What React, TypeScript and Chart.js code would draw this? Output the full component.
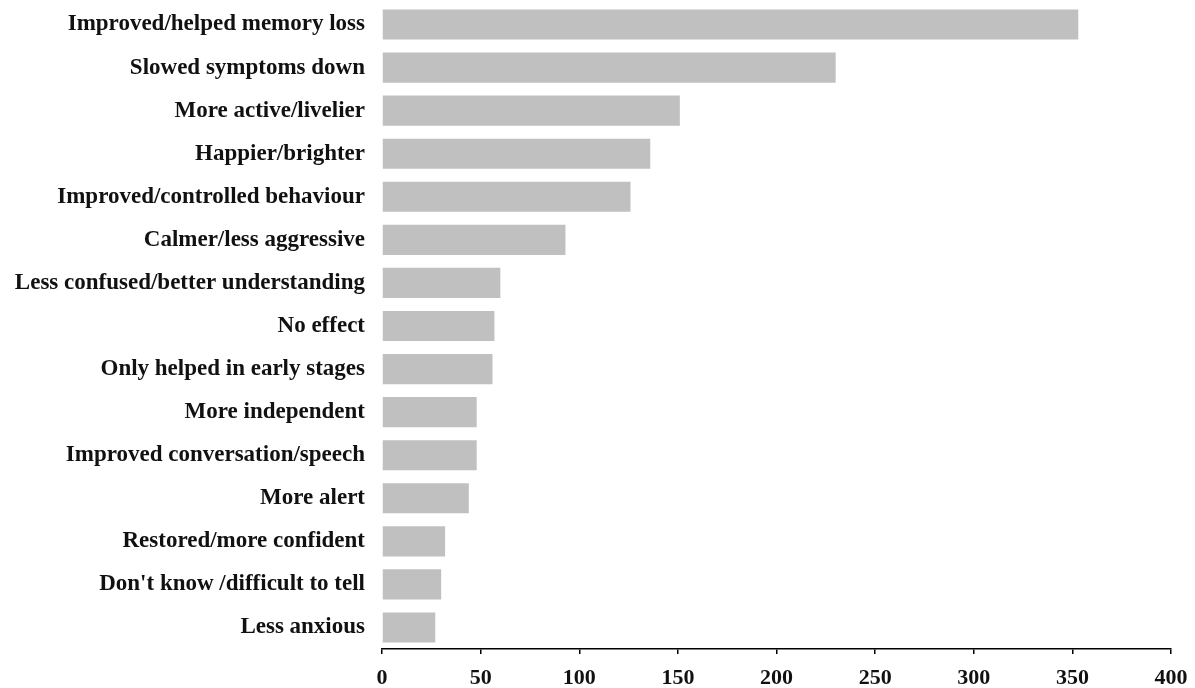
import React, { useEffect, useRef } from "react";
import { Chart, registerables } from "chart.js";

Chart.register(...registerables);

const categories: string[] = [
  "Improved/helped memory loss",
  "Slowed symptoms down",
  "More active/livelier",
  "Happier/brighter",
  "Improved/controlled behaviour",
  "Calmer/less aggressive",
  "Less confused/better understanding",
  "No effect",
  "Only helped in early stages",
  "More independent",
  "Improved conversation/speech",
  "More alert",
  "Restored/more confident",
  "Don't know /difficult to tell",
  "Less anxious",
];

const counts: number[] = [353, 230, 151, 136, 126, 93, 60, 57, 56, 48, 48, 44, 32, 30, 27];

const xTicks: number[] = [0, 50, 100, 150, 200, 250, 300, 350, 400];

const FONT = "'Liberation Serif', 'DejaVu Serif', serif";

export default function App() {
  const ref = useRef<HTMLCanvasElement | null>(null);

  useEffect(() => {
    document.body.style.margin = "0";
    const canvas = ref.current;
    if (!canvas) return;
    const chart = new Chart(canvas, {
      type: "bar",
      data: {
        labels: categories,
        datasets: [
          {
            data: counts,
            backgroundColor: "#c0c0c0",
            borderWidth: 0,
            barPercentage: 0.7,
            categoryPercentage: 1,
          },
        ],
      },
      options: {
        indexAxis: "y",
        animation: false,
        responsive: false,
        maintainAspectRatio: false,
        devicePixelRatio: 1,
        layout: { padding: { top: 3, right: 24, left: 0, bottom: 0 } },
        plugins: { legend: { display: false }, tooltip: { enabled: false } },
        scales: {
          x: {
            min: 0,
            max: 400,
            afterBuildTicks: (axis: any) => {
              axis.ticks = xTicks.map((v) => ({ value: v }));
            },
            afterFit: (axis: any) => {
              axis.height = 39;
              axis.paddingLeft = 0;
              axis.paddingRight = 0;
            },
            border: { display: true, color: "#000", width: 1.5 },
            grid: {
              drawOnChartArea: false,
              drawTicks: true,
              tickLength: 5,
              color: "#000",
              lineWidth: 1.5,
            },
            ticks: {
              color: "#111",
              padding: 11,
              maxRotation: 0,
              font: { family: FONT, size: 22, weight: "bold" },
            },
          },
          y: {
            afterFit: (axis: any) => {
              axis.width = 382;
              axis.paddingTop = 0;
              axis.paddingBottom = 0;
            },
            border: { display: false },
            grid: { display: false, drawTicks: false },
            ticks: {
              color: "#111",
              padding: 17,
              autoSkip: false,
              font: { family: FONT, size: 23, weight: "bold" },
            },
          },
        },
      },
    });
    return () => chart.destroy();
  }, []);

  return <canvas ref={ref} width={1195} height={688} style={{ display: "block" }} />;
}
